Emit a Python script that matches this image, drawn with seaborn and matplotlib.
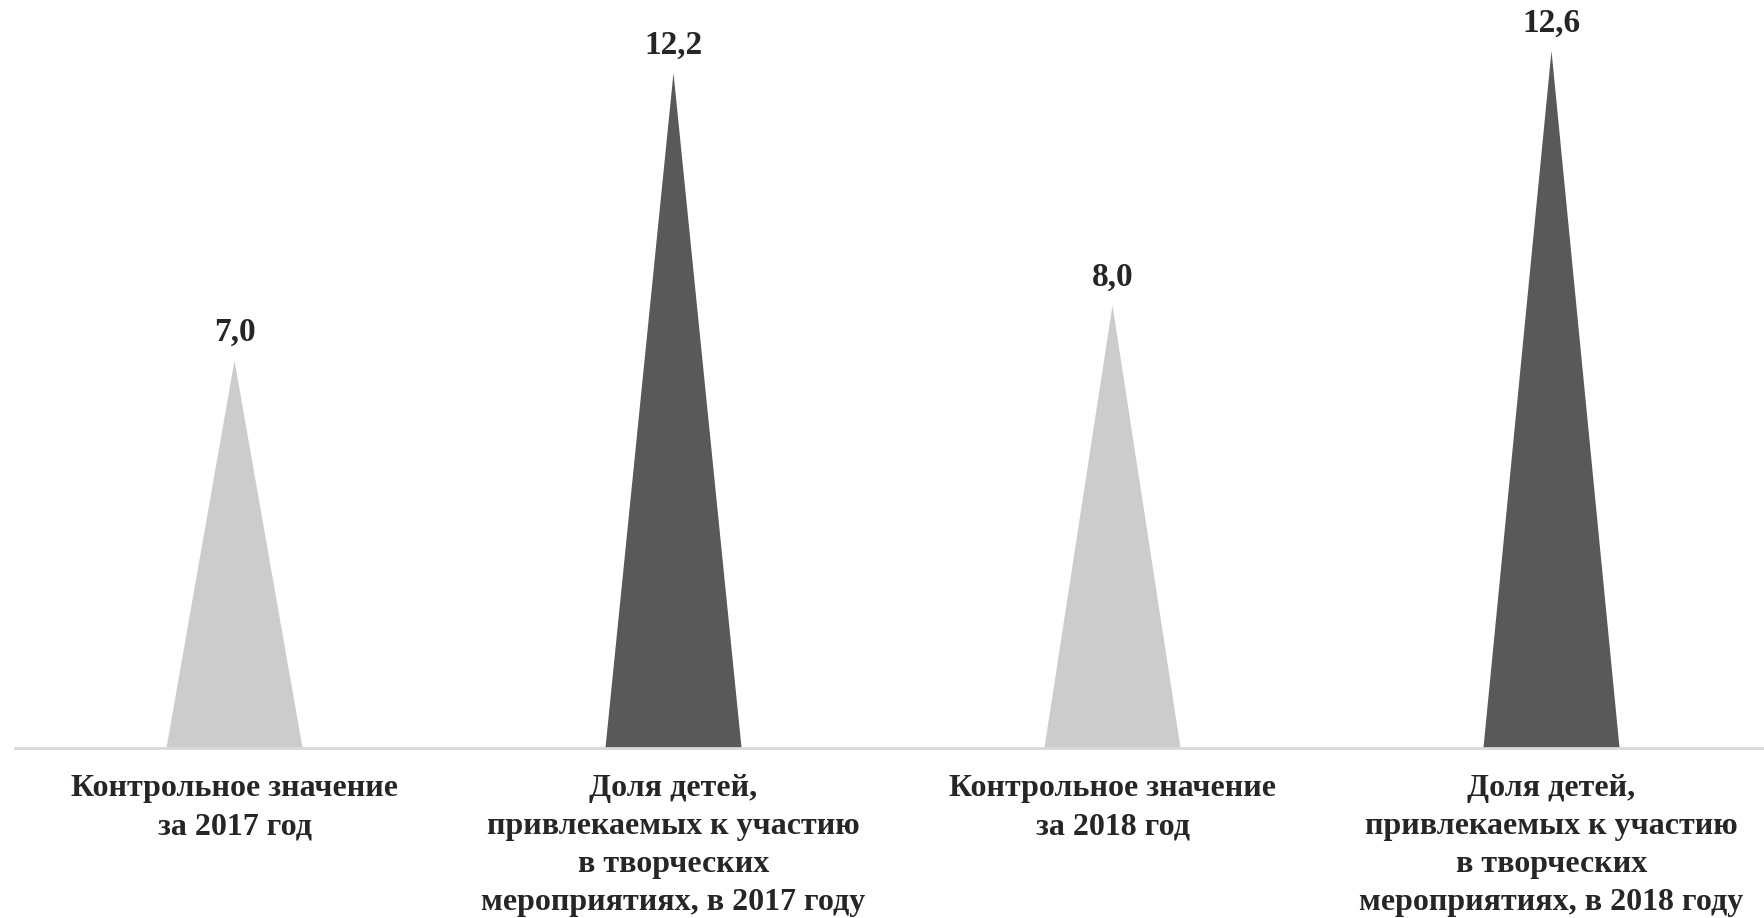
import matplotlib
matplotlib.use('Agg')
import matplotlib.pyplot as plt
import seaborn as sns
import pandas as pd
from matplotlib.patches import Polygon

# Data
categories = [
    'Контрольное значение\nза 2017 год',
    'Доля детей,\nпривлекаемых к участию\nв творческих\nмероприятиях, в 2017 году',
    'Контрольное значение\nза 2018 год',
    'Доля детей,\nпривлекаемых к участию\nв творческих\nмероприятиях, в 2018 году',
]
values = [7.0, 12.2, 8.0, 12.6]
colors = ['#cccccc', '#595959', '#cccccc', '#595959']

df = pd.DataFrame({'category': categories, 'value': values})

sns.set_style('white')
plt.rcParams['font.family'] = ['Liberation Serif', 'DejaVu Serif']

fig = plt.figure(figsize=(17.64, 9.18), dpi=100)
ax = fig.add_axes([15 / 1764, 170 / 918, 1756 / 1764, 747 / 918])

sns.barplot(data=df, x='category', y='value', hue='category', palette=colors,
            width=0.31, legend=False, ax=ax)

# turn each bar into a triangle (pyramid-style column)
for bar in list(ax.patches):
    x, w, h = bar.get_x(), bar.get_width(), bar.get_height()
    tri = Polygon([(x, 0), (x + w / 2, h), (x + w, 0)], closed=True,
                  facecolor=bar.get_facecolor(), edgecolor='none')
    ax.add_patch(tri)
    bar.remove()
    ax.annotate(f'{h:.1f}'.replace('.', ','), (x + w / 2, h),
                xytext=(0, 9), textcoords='offset points',
                ha='center', va='bottom', fontsize=24, fontweight='bold')

ax.set_xlim(-0.5, 3.5)
ax.set_ylim(0, 13.5)
ax.set_yticks([])
ax.set_xlabel('')
ax.set_ylabel('')
for side in ['top', 'right', 'left']:
    ax.spines[side].set_visible(False)
ax.spines['bottom'].set_color('#d9d9d9')
ax.spines['bottom'].set_linewidth(2)
ax.tick_params(axis='x', length=0, pad=19)
for lbl in ax.get_xticklabels():
    lbl.set_fontsize(23)
    lbl.set_fontweight('bold')
    lbl.set_linespacing(1.4)

fig.savefig('out.png', dpi=100, facecolor='white')
